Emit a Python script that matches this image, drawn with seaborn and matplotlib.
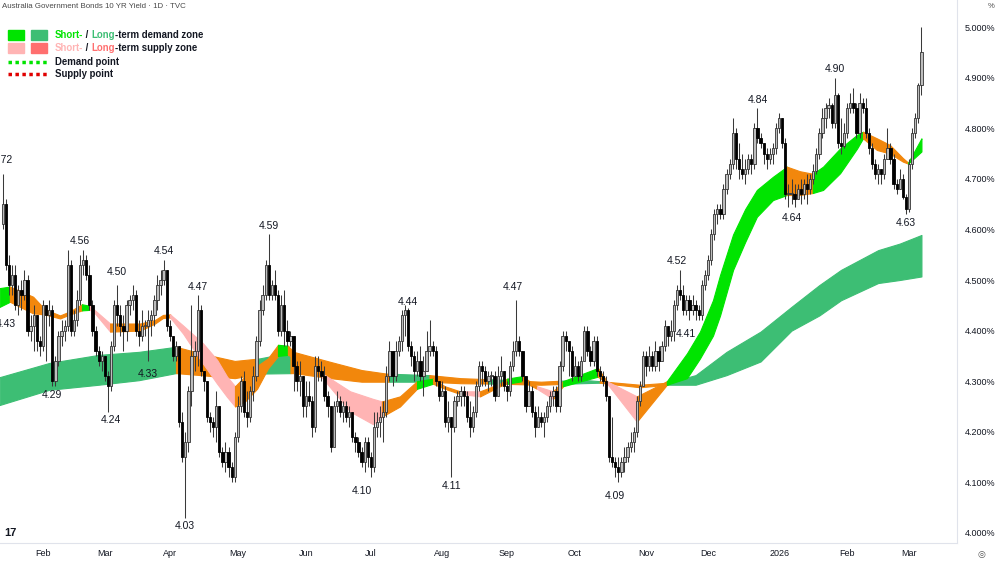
import numpy as np
import pandas as pd
import matplotlib
matplotlib.use("Agg")
import matplotlib.pyplot as plt
from matplotlib.patches import Rectangle
from matplotlib.lines import Line2D
import seaborn as sns

# daily candles, one per business day from 15 Jan 2025
first_open = 4.61
close = [4.65, 4.53, 4.49, 4.51, 4.45, 4.48, 4.47, 4.50, 4.40, 4.41,
         4.43, 4.38, 4.37, 4.45, 4.43, 4.44, 4.30, 4.34, 4.39, 4.40,
         4.41, 4.53, 4.40, 4.42, 4.46, 4.53, 4.54, 4.51, 4.45, 4.40,
         4.36, 4.34, 4.35, 4.31, 4.29, 4.37, 4.45, 4.43, 4.41, 4.40,
         4.45, 4.46, 4.47, 4.40, 4.39, 4.41, 4.41, 4.42, 4.43, 4.46,
         4.49, 4.50, 4.52, 4.41, 4.39, 4.35, 4.37, 4.22, 4.15, 4.18,
         4.28, 4.35, 4.36, 4.44, 4.32, 4.30, 4.23, 4.22, 4.21, 4.25,
         4.16, 4.14, 4.16, 4.13, 4.11, 4.19, 4.25, 4.30, 4.24, 4.23,
         4.28, 4.31, 4.38, 4.44, 4.47, 4.53, 4.47, 4.49, 4.47, 4.40,
         4.45, 4.40, 4.38, 4.39, 4.33, 4.30, 4.31, 4.25, 4.27, 4.26,
         4.21, 4.33, 4.32, 4.31, 4.27, 4.25, 4.17, 4.25, 4.26, 4.24,
         4.25, 4.23, 4.24, 4.19, 4.18, 4.16, 4.14, 4.18, 4.15, 4.13,
         4.21, 4.22, 4.23, 4.24, 4.31, 4.36, 4.31, 4.36, 4.38, 4.43,
         4.44, 4.37, 4.35, 4.32, 4.34, 4.31, 4.32, 4.36, 4.37, 4.36,
         4.30, 4.27, 4.28, 4.22, 4.23, 4.21, 4.26, 4.27, 4.28, 4.27,
         4.23, 4.21, 4.24, 4.29, 4.33, 4.32, 4.30, 4.31, 4.31, 4.27,
         4.31, 4.32, 4.29, 4.28, 4.33, 4.36, 4.38, 4.36, 4.31, 4.25,
         4.28, 4.24, 4.21, 4.23, 4.22, 4.23, 4.25, 4.27, 4.28, 4.25,
         4.33, 4.39, 4.38, 4.36, 4.31, 4.33, 4.31, 4.34, 4.40, 4.36,
         4.34, 4.38, 4.32, 4.31, 4.30, 4.27, 4.15, 4.14, 4.13, 4.12,
         4.14, 4.15, 4.17, 4.18, 4.20, 4.26, 4.29, 4.35, 4.33, 4.35,
         4.33, 4.36, 4.34, 4.37, 4.41, 4.39, 4.40, 4.45, 4.48, 4.47,
         4.44, 4.46, 4.44, 4.45, 4.44, 4.43, 4.49, 4.51, 4.54, 4.59,
         4.63, 4.64, 4.63, 4.68, 4.71, 4.73, 4.79, 4.74, 4.72, 4.71,
         4.72, 4.74, 4.73, 4.80, 4.78, 4.77, 4.75, 4.74, 4.75, 4.76,
         4.80, 4.82, 4.77, 4.67, 4.67, 4.67, 4.66, 4.68, 4.67, 4.69,
         4.68, 4.70, 4.715, 4.75, 4.79, 4.82, 4.84, 4.845, 4.81, 4.865,
         4.77, 4.765, 4.79, 4.84, 4.85, 4.84, 4.79, 4.85, 4.84, 4.79,
         4.76, 4.73, 4.71, 4.72, 4.71, 4.74, 4.76, 4.74, 4.69, 4.68,
         4.70, 4.665, 4.64, 4.73, 4.79, 4.82, 4.885, 4.95]
high = [4.71, 4.66, 4.55, 4.53, 4.53, 4.49, 4.50, 4.52, 4.51, 4.43,
        4.45, 4.43, 4.39, 4.46, 4.45, 4.46, 4.45, 4.35, 4.40, 4.42,
        4.42, 4.56, 4.54, 4.44, 4.48, 4.55, 4.56, 4.55, 4.53, 4.46,
        4.41, 4.37, 4.36, 4.35, 4.32, 4.38, 4.46, 4.49, 4.45, 4.43,
        4.46, 4.47, 4.49, 4.48, 4.42, 4.44, 4.42, 4.44, 4.44, 4.47,
        4.51, 4.52, 4.54, 4.52, 4.42, 4.39, 4.38, 4.37, 4.24, 4.20,
        4.29, 4.45, 4.38, 4.47, 4.45, 4.32, 4.30, 4.24, 4.23, 4.28,
        4.25, 4.17, 4.18, 4.17, 4.14, 4.20, 4.27, 4.31, 4.32, 4.28,
        4.29, 4.33, 4.39, 4.46, 4.49, 4.54, 4.59, 4.50, 4.52, 4.48,
        4.47, 4.48, 4.42, 4.40, 4.39, 4.34, 4.34, 4.30, 4.30, 4.30,
        4.27, 4.35, 4.35, 4.34, 4.33, 4.28, 4.25, 4.26, 4.28, 4.27,
        4.26, 4.26, 4.25, 4.24, 4.20, 4.19, 4.17, 4.19, 4.19, 4.16,
        4.24, 4.24, 4.25, 4.26, 4.33, 4.38, 4.36, 4.38, 4.39, 4.44,
        4.45, 4.445, 4.38, 4.36, 4.36, 4.37, 4.35, 4.40, 4.42, 4.38,
        4.37, 4.30, 4.30, 4.29, 4.26, 4.23, 4.27, 4.28, 4.29, 4.29,
        4.28, 4.26, 4.25, 4.30, 4.34, 4.34, 4.33, 4.32, 4.32, 4.32,
        4.33, 4.35, 4.32, 4.30, 4.34, 4.38, 4.46, 4.39, 4.36, 4.31,
        4.30, 4.29, 4.25, 4.25, 4.24, 4.24, 4.26, 4.28, 4.29, 4.29,
        4.34, 4.40, 4.40, 4.38, 4.37, 4.35, 4.34, 4.35, 4.41, 4.41,
        4.37, 4.39, 4.39, 4.33, 4.32, 4.31, 4.27, 4.23, 4.15, 4.15,
        4.15, 4.17, 4.18, 4.20, 4.21, 4.27, 4.30, 4.36, 4.36, 4.37,
        4.36, 4.38, 4.37, 4.38, 4.42, 4.41, 4.42, 4.46, 4.49, 4.52,
        4.49, 4.47, 4.47, 4.47, 4.46, 4.45, 4.50, 4.52, 4.55, 4.60,
        4.64, 4.65, 4.65, 4.69, 4.72, 4.74, 4.82, 4.80, 4.77, 4.75,
        4.74, 4.75, 4.75, 4.81, 4.84, 4.79, 4.77, 4.76, 4.76, 4.77,
        4.81, 4.83, 4.82, 4.78, 4.69, 4.70, 4.69, 4.69, 4.70, 4.70,
        4.71, 4.71, 4.73, 4.76, 4.80, 4.84, 4.85, 4.86, 4.85, 4.90,
        4.87, 4.82, 4.81, 4.85, 4.87, 4.88, 4.85, 4.87, 4.86, 4.86,
        4.80, 4.77, 4.74, 4.73, 4.72, 4.75, 4.80, 4.77, 4.75, 4.70,
        4.72, 4.71, 4.67, 4.74, 4.80, 4.83, 4.89, 5.00]
low = [4.60, 4.52, 4.47, 4.47, 4.44, 4.43, 4.44, 4.46, 4.39, 4.38,
       4.36, 4.36, 4.35, 4.36, 4.34, 4.41, 4.29, 4.29, 4.33, 4.37,
       4.38, 4.40, 4.39, 4.39, 4.41, 4.45, 4.51, 4.50, 4.44, 4.39,
       4.35, 4.33, 4.32, 4.30, 4.24, 4.28, 4.36, 4.41, 4.39, 4.36,
       4.38, 4.43, 4.44, 4.39, 4.37, 4.38, 4.39, 4.34, 4.39, 4.41,
       4.44, 4.47, 4.49, 4.40, 4.38, 4.34, 4.34, 4.21, 4.14, 4.03,
       4.16, 4.25, 4.32, 4.33, 4.31, 4.28, 4.22, 4.20, 4.19, 4.18,
       4.15, 4.13, 4.12, 4.11, 4.10, 4.10, 4.18, 4.24, 4.23, 4.21,
       4.22, 4.26, 4.30, 4.37, 4.43, 4.46, 4.46, 4.46, 4.46, 4.39,
       4.39, 4.37, 4.37, 4.37, 4.28, 4.28, 4.27, 4.23, 4.23, 4.25,
       4.19, 4.20, 4.30, 4.30, 4.26, 4.23, 4.16, 4.17, 4.24, 4.23,
       4.22, 4.22, 4.21, 4.18, 4.16, 4.15, 4.13, 4.12, 4.13, 4.11,
       4.12, 4.19, 4.19, 4.18, 4.23, 4.30, 4.29, 4.30, 4.35, 4.36,
       4.39, 4.36, 4.33, 4.30, 4.31, 4.30, 4.27, 4.32, 4.35, 4.35,
       4.29, 4.26, 4.27, 4.21, 4.20, 4.11, 4.20, 4.25, 4.25, 4.25,
       4.22, 4.19, 4.20, 4.23, 4.28, 4.29, 4.29, 4.28, 4.29, 4.26,
       4.30, 4.29, 4.28, 4.26, 4.27, 4.32, 4.35, 4.35, 4.30, 4.24,
       4.25, 4.23, 4.19, 4.21, 4.21, 4.19, 4.22, 4.24, 4.25, 4.24,
       4.24, 4.32, 4.36, 4.31, 4.30, 4.31, 4.30, 4.30, 4.34, 4.35,
       4.33, 4.33, 4.31, 4.30, 4.29, 4.26, 4.14, 4.13, 4.11, 4.10,
       4.11, 4.12, 4.14, 4.16, 4.16, 4.19, 4.25, 4.29, 4.31, 4.32,
       4.32, 4.32, 4.32, 4.34, 4.36, 4.37, 4.38, 4.38, 4.44, 4.46,
       4.43, 4.43, 4.42, 4.43, 4.42, 4.42, 4.42, 4.48, 4.50, 4.53,
       4.58, 4.61, 4.62, 4.62, 4.67, 4.70, 4.72, 4.72, 4.70, 4.70,
       4.69, 4.71, 4.71, 4.72, 4.77, 4.76, 4.73, 4.72, 4.73, 4.73,
       4.75, 4.79, 4.76, 4.66, 4.645, 4.65, 4.645, 4.66, 4.65, 4.66,
       4.65, 4.67, 4.69, 4.71, 4.74, 4.78, 4.80, 4.82, 4.80, 4.80,
       4.76, 4.75, 4.76, 4.78, 4.83, 4.83, 4.78, 4.78, 4.83, 4.78,
       4.75, 4.72, 4.70, 4.69, 4.69, 4.70, 4.74, 4.73, 4.68, 4.67,
       4.68, 4.66, 4.63, 4.635, 4.72, 4.78, 4.81, 4.865]

# short-term zone edges (bar number, upper, lower) and its state between breaks
st_bar = [-1, 2.3, 9.8, 13.6, 18.5, 21.7, 25.6, 28.2, 29.8, 34.7, 44.4, 49.2, 51.8,
          54.1, 58.3, 64.7, 69.3, 72.5, 75.1, 78.3, 82.2, 85.7, 89.0, 92.2, 94.5,
          102.6, 112.3, 119.7, 122.6, 128.4, 133.9, 139.1, 142.9, 147.8, 154.3,
          160.7, 163.0, 167.9, 172.7, 177.9, 181.1, 192.4, 195.3, 205.0, 214.7,
          221.2, 225.4, 229.6, 231.9, 236.1, 240.0, 243.8, 249.0, 253.5, 257.7,
          261.9, 265.2, 270.7, 276.2, 278.1, 282.6, 286.8, 291.0, 292.7, 297]
st_upper = [4.484, 4.487, 4.467, 4.442, 4.430, 4.438, 4.452, 4.449, 4.440, 4.414,
            4.414, 4.421, 4.431, 4.432, 4.41, 4.375, 4.342, 4.309, 4.29, 4.31,
            4.33, 4.345, 4.372, 4.37, 4.355, 4.318, 4.28, 4.265, 4.26, 4.27,
            4.30, 4.305, 4.29, 4.28, 4.28, 4.295, 4.305, 4.31, 4.29, 4.28,
            4.30, 4.326, 4.30, 4.27, 4.30, 4.355, 4.398, 4.46, 4.51, 4.59,
            4.64, 4.678, 4.704, 4.724, 4.715, 4.71, 4.724, 4.76, 4.787, 4.793,
            4.78, 4.767, 4.741, 4.732, 4.78]
st_lower = [4.447, 4.457, 4.434, 4.432, 4.424, 4.432, 4.44, 4.441, 4.434, 4.398,
            4.400, 4.414, 4.425, 4.426, 4.394, 4.335, 4.295, 4.269, 4.25, 4.26,
            4.285, 4.325, 4.35, 4.352, 4.345, 4.312, 4.24, 4.215, 4.23, 4.25,
            4.285, 4.295, 4.285, 4.275, 4.27, 4.29, 4.295, 4.30, 4.285, 4.265,
            4.29, 4.309, 4.296, 4.22, 4.293, 4.306, 4.345, 4.39, 4.43, 4.52,
            4.575, 4.625, 4.658, 4.668, 4.668, 4.672, 4.678, 4.711, 4.76, 4.78,
            4.757, 4.75, 4.734, 4.730, 4.754]
st_breaks = [-1, 2.3, 25.6, 28.2, 34.7, 54.1, 75.1, 89.0, 92.2, 102.6, 122.6, 133.9,
             139.1, 147.8, 154.3, 163.0, 167.9, 172.7, 177.9, 181.1, 192.4, 195.3,
             205.0, 214.7, 253.5, 261.9, 278.1, 292.7, 297]
st_state = ["up", "mix", "up", "down", "mix", "down", "mix", "up", "mix", "down",
            "mix", "up", "mix", "down", "mix", "up", "mix", "down", "mix", "up",
            "mix", "down", "mix", "up", "mix", "up", "mix", "up"]

# long-term zone
lt_bar = [-1, 15, 31, 44, 56, 64, 75, 83, 94, 106, 116, 124, 138, 148, 161, 174,
          187, 193, 206, 215, 224, 234, 245, 255, 264, 271, 283, 290, 297]
lt_upper = [4.308, 4.336, 4.352, 4.358, 4.368, 4.355, 4.340, 4.345, 4.358, 4.338,
            4.322, 4.315, 4.312, 4.306, 4.303, 4.299, 4.303, 4.300, 4.293, 4.297,
            4.312, 4.358, 4.398, 4.447, 4.49, 4.52, 4.559, 4.572, 4.589]
lt_lower = [4.253, 4.283, 4.293, 4.302, 4.316, 4.312, 4.306, 4.315, 4.316, 4.306,
            4.299, 4.299, 4.299, 4.296, 4.295, 4.293, 4.296, 4.297, 4.288, 4.293,
            4.293, 4.312, 4.339, 4.40, 4.43, 4.46, 4.494, 4.50, 4.507]
lt_breaks = [-1, 56, 82, 93, 125, 138, 157, 164, 180, 193, 215, 297]
lt_state = ["up", "mix", "up", "mix", "up", "mix", "up", "mix", "up", "mix", "up"]

# labelled swing highs / lows
piv_bar = [0, 1, 25, 16, 37, 35, 52, 47, 63, 59, 86, 116, 131, 145, 165, 198,
           218, 221, 244, 255, 269, 292]
piv_val = [4.72, 4.43, 4.56, 4.29, 4.50, 4.24, 4.54, 4.33, 4.47, 4.03, 4.59, 4.10,
           4.44, 4.11, 4.47, 4.09, 4.52, 4.41, 4.84, 4.64, 4.90, 4.63]
piv_kind = ["H", "L", "H", "L", "H", "L", "H", "L", "H", "L", "H", "L",
            "H", "L", "H", "L", "H", "L", "H", "L", "H", "L"]

yticks = [4.0, 4.1, 4.2, 4.3, 4.4, 4.5, 4.6, 4.7, 4.8, 4.9, 5.0]

G_SHORT, G_LONG = "#00e400", "#3dbe74"
P_SHORT, P_LONG = "#ffb4b4", "#ff6f6f"
ORANGE = "#f2870c"
INK = "#131722"

sns.set_theme(style="white")
plt.rcParams["font.family"] = ["Liberation Sans", "DejaVu Sans"]

dates = pd.bdate_range("2025-01-15", periods=len(close))
bars = np.arange(len(close))
c = np.array(close)
h = np.array(high)
l = np.array(low)
o = np.r_[first_open, c[:-1]]

fig = plt.figure(figsize=(10, 5.62), dpi=100)
ax = fig.add_axes([0, 19 / 562, 957 / 1000, 543 / 562])

grid = np.linspace(-1, 297, 5000)


def draw_zone(anchor, upper, lower, breaks, states, palette, z):
    up = np.interp(grid, anchor, upper)
    lo = np.interp(grid, anchor, lower)
    for a, b, s in zip(breaks[:-1], breaks[1:], states):
        m = (grid >= a - 0.05) & (grid <= b + 0.05)
        ax.fill_between(grid[m], lo[m], up[m], color=palette[s], lw=0.8, zorder=z)


draw_zone(lt_bar, lt_upper, lt_lower, lt_breaks, lt_state,
          {"up": G_LONG, "down": P_LONG, "mix": ORANGE}, 1)
draw_zone(st_bar, st_upper, st_lower, st_breaks, st_state,
          {"up": G_SHORT, "down": P_SHORT, "mix": ORANGE}, 2)

# candles
body_lo = np.minimum(o, c)
body_hi = np.maximum(o, c)
body_h = np.maximum(body_hi - body_lo, 0.002)
rising = c >= o
ax.vlines(bars, np.minimum(l, body_lo), np.maximum(h, body_hi), color="#3a3a3a", lw=0.75, zorder=3)
ax.bar(bars[rising], body_h[rising], bottom=body_lo[rising], width=0.74,
       color="#bdbdbd", edgecolor="#333333", lw=0.6, zorder=4)
ax.bar(bars[~rising], body_h[~rising], bottom=body_lo[~rising], width=0.74,
       color="#000000", edgecolor="#000000", lw=0.6, zorder=4)

for b, v, k in zip(piv_bar, piv_val, piv_kind):
    ax.annotate(f"{v:.2f}", (b, v), xytext=(0, 2.5 if k == "H" else -2.5),
                textcoords="offset points", ha="center",
                va="bottom" if k == "H" else "top", fontsize=7.5, color=INK, zorder=6)

ax.set_xlim(-0.905, 308.5)
ax.set_ylim(3.9802, 5.0534)
ax.yaxis.tick_right()
ax.set_yticks(yticks)
ax.set_yticklabels([f"{v:.3f}%" for v in yticks], fontsize=6.5, color=INK)
ax.tick_params(axis="y", length=0, pad=5.5)

new_month = np.r_[False, dates.month[1:] != dates.month[:-1]]
tick_dates = dates[new_month]
ax.set_xticks(bars[new_month])
ax.set_xticklabels([str(d.year) if d.month == 1 else d.strftime("%b") for d in tick_dates],
                   fontsize=6.5, color=INK)
ax.tick_params(axis="x", length=0, pad=4.5)
for s in ["top", "left"]:
    ax.spines[s].set_visible(False)
for s in ["right", "bottom"]:
    ax.spines[s].set_color("#e0e3eb")
    ax.spines[s].set_linewidth(0.8)
ax.grid(False)

# header texts
fig.text(2 / 1000, 1 - 6 / 562, "Australia Government Bonds 10 YR Yield · 1D · TVC",
         fontsize=5.7, color="#4a4a4a", va="center")
fig.text(988 / 1000, 1 - 6 / 562, "%", fontsize=5.6, color="#4a4a4a", va="center")
fig.text(4 / 1000, 1 - 533 / 562, "17", fontsize=8, fontweight="bold", color=INK, va="center")
fig.text(978 / 1000, 1 - 555 / 562, "◎", fontsize=6.5, color="#555555", va="center",
         family="DejaVu Sans")

# legend
for x0, col in [(8, G_SHORT), (31, G_LONG)]:
    fig.add_artist(Rectangle((x0 / 1000, 1 - 40 / 562), 16 / 1000, 10 / 562,
                             color=col, transform=fig.transFigure))
for x0, col in [(8, P_SHORT), (31, P_LONG)]:
    fig.add_artist(Rectangle((x0 / 1000, 1 - 53 / 562), 16 / 1000, 10 / 562,
                             color=col, transform=fig.transFigure))
fig.add_artist(Line2D([8 / 1000, 47 / 1000], [1 - 62 / 562] * 2, color=G_SHORT,
                      lw=2.5, ls=(0, (1, 1)), transform=fig.transFigure))
fig.add_artist(Line2D([8 / 1000, 47 / 1000], [1 - 74 / 562] * 2, color="#e00000",
                      lw=2.5, ls=(0, (1, 1)), transform=fig.transFigure))

rows = [(35, [("Short-", G_SHORT), (" / ", INK), ("Long", G_LONG), ("-term demand zone", INK)]),
        (48, [("Short-", P_SHORT), (" / ", INK), ("Long", P_LONG), ("-term supply zone", INK)]),
        (62, [("Demand point", INK)]),
        (74, [("Supply point", INK)])]
for y, pieces in rows:
    t = fig.text(55 / 1000, 1 - y / 562, pieces[0][0], color=pieces[0][1],
                 fontsize=6.9, fontweight="bold", va="center")
    for s, col in pieces[1:]:
        t = ax.annotate(s, xy=(1, 0), xycoords=t, ha="left", va="bottom",
                        fontsize=6.9, fontweight="bold", color=col)

fig.savefig("out.png", dpi=100)
